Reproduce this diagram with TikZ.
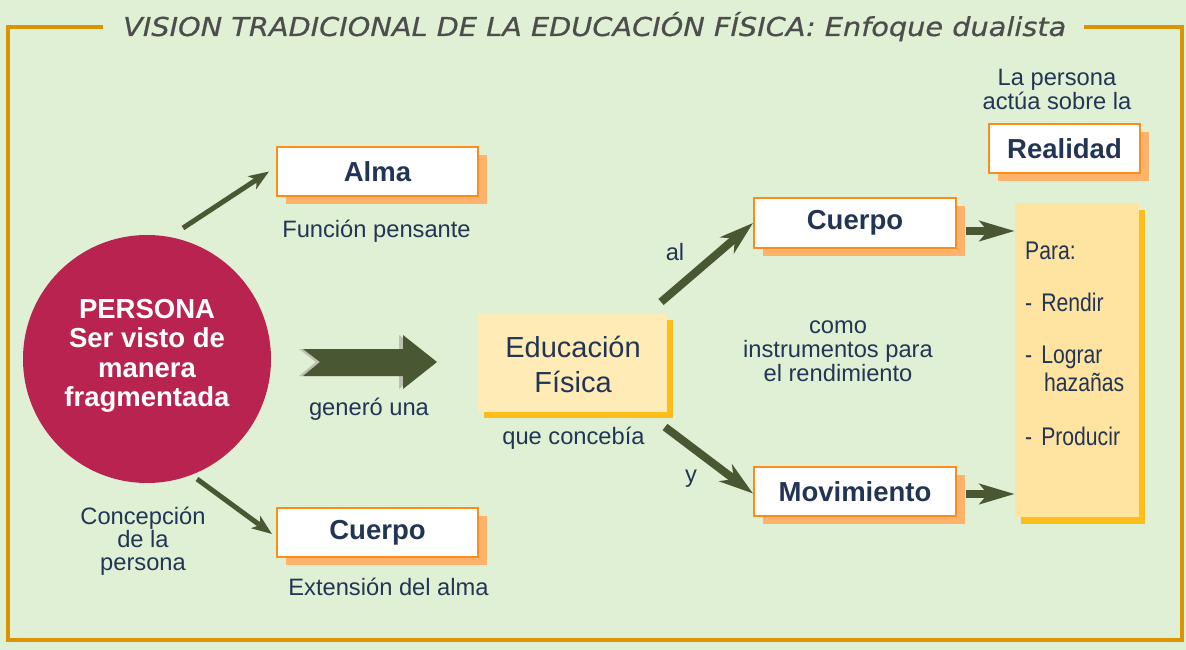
\documentclass[tikz,border=0pt]{standalone}
\usepackage{graphicx}
\usepackage{fontspec}
\setmainfont{Liberation Sans}
\newfontfamily\titlefont{DejaVu Sans}[FakeBold=0.6]
\newfontfamily\narrowfont{Liberation Sans}[FakeStretch=0.83]
\usetikzlibrary{arrows.meta,shadows,calc}
\definecolor{bgc}{HTML}{E0F0D4}
\definecolor{framec}{HTML}{D99400}
\definecolor{boxline}{HTML}{FF8C1A}
\definecolor{boxshade}{HTML}{FFB26A}
\definecolor{txt}{HTML}{233554}
\definecolor{titlec}{HTML}{4D4D4D}
\definecolor{arrowc}{HTML}{4A5733}
\definecolor{personac}{HTML}{B8244F}
\definecolor{educ}{HTML}{FFEBB5}
\definecolor{parac}{HTML}{FFE3A0}
\definecolor{ambershade}{HTML}{FDBD1A}
\definecolor{arrshadow}{HTML}{BDBFB0}
\begin{document}
\begin{tikzpicture}[x=1pt,y=-1pt,
  lbl/.style={text=txt,inner sep=0,font=\fontsize{23.7}{24}\selectfont,align=center},
  whitebox/.style={draw=boxline,line width=2pt,fill=white,inner sep=0,text=txt,
    font=\bfseries\fontsize{27.5}{30}\selectfont,
    drop shadow={shadow xshift=9pt,shadow yshift=-8pt,fill=boxshade,opacity=1}},
  edubox/.style={fill=educ,inner sep=0,
    drop shadow={shadow xshift=6pt,shadow yshift=-6pt,fill=ambershade,opacity=1}},
  parabox/.style={fill=parac,inner sep=0,
    drop shadow={shadow xshift=6pt,shadow yshift=-7pt,fill=ambershade,opacity=1}},
  thinarr/.style={draw=arrowc,line width=5pt,-{Stealth[length=20pt,width=15pt,inset=5pt]}},
  medarr/.style={draw=arrowc,line width=8pt,-{Stealth[length=34pt,width=21pt,inset=10pt]}},
  shortarr/.style={draw=arrowc,line width=8pt,-{Stealth[length=35pt,width=20pt,inset=8pt]}},
  frameline/.style={draw=framec,line width=3.5pt}
]
\useasboundingbox (0,0) rectangle (1186,650);
\fill[bgc] (0,0) rectangle (1186,650);

% title and frame
\node[anchor=base west,inner sep=0,text=titlec,font=\titlefont\itshape\fontsize{26}{26}\selectfont] (title) at (123,36)
  {\resizebox{943pt}{\height}{VISION TRADICIONAL DE LA EDUCACIÓN FÍSICA: Enfoque dualista}};
\draw[frameline] (103,27) -- (8,27) -- (8,640) -- (1182,640) -- (1182,27) -- (1084,27);

% persona circle
\node[circle,fill=personac,minimum size=248pt,inner sep=0] (persona) at (147,359) {};
\node[anchor=base,inner sep=0,text=white,align=center,font=\bfseries\fontsize{27.5}{29.3}\selectfont] (personatxt) at (147,406.5)
  {PERSONA\\Ser visto de\\manera\\fragmentada};
\node[lbl,anchor=base] (concep) at (143,570) {Concepción\\[-1.3pt]de la\\[-1.3pt]persona};

% alma / cuerpo left
\node[whitebox,minimum width=201pt,minimum height=49pt] (alma) at (377.5,171.5) {Alma};
\node[lbl,anchor=base] (almatxt) at (376.5,237.5) {Función pensante};
\node[whitebox,minimum width=201pt,minimum height=49pt] (cuerpoL) at (377.5,532.5) {Cuerpo};
\node[lbl,anchor=base] (cuerpotxt) at (388.5,595) {Extensión del alma};

\coordinate (pa) at (183,228);
\coordinate (pb) at (197,479);
\draw[thinarr] (pa) -- ([xshift=-7pt]alma.west);
\draw[thinarr] (pb) -- ([xshift=-4pt,yshift=-1.5pt]cuerpoL.west);

% big arrow
\fill[arrshadow] (299,349) -- (399,349) -- (399,335) -- (433,362) -- (399,389) -- (399,376) -- (299,376) -- (316,362) -- cycle;
\fill[arrowc] (303,349) -- (403,349) -- (403,335) -- (437,362) -- (403,389) -- (403,376) -- (303,376) -- (320,362) -- cycle;
\node[lbl,anchor=base] (genero) at (369,415.7) {generó una};

% educacion fisica
\node[edubox,minimum width=189pt,minimum height=98pt] (edu) at (572.5,363) {};
\node[anchor=base,inner sep=0,text=txt,align=center,font=\fontsize{29}{35}\selectfont] (edutxt) at (573,392) {Educación\\Física};
\node[lbl,anchor=base] (concebia) at (573.5,444) {que concebía};

% right side
\node[whitebox,minimum width=202pt,minimum height=50pt] (cuerpoR) at (855,223) {Cuerpo};
\node[whitebox,minimum width=202pt,minimum height=49pt] (mov) at (855,491.5) {Movimiento};
\coordinate (pc) at (661,302);
\coordinate (pd) at (665,427);
\draw[medarr] (pc) -- (cuerpoR.west);
\draw[medarr] (pd) -- ([yshift=-2pt]mov.west);
\node[lbl,anchor=base] (al) at (675,260) {al};
\node[lbl,anchor=base] (yy) at (691,482) {y};
\node[lbl,anchor=base] (como) at (838,381.7) {como\\instrumentos para\\el rendimiento};

% para box
\node[parabox,minimum width=124pt,minimum height=314pt] (para) at (1077,360) {};
\node[anchor=base west,inner sep=0,text=txt,align=left,font=\narrowfont\fontsize{25.5}{28.7}\selectfont] (paratxt) at (1025,445)
  {Para:\\[24pt]-\hspace{9pt}Rendir\\[22.6pt]-\hspace{9pt}Lograr\\\hspace*{19pt}hazañas\\[24.6pt]-\hspace{9pt}Producir};
\draw[shortarr] ([xshift=9pt,yshift=-8pt]cuerpoR.east) coordinate (r1) -- (r1 -| para.west);
\draw[shortarr] ([xshift=9pt,yshift=-2.5pt]mov.east) coordinate (r2) -- (r2 -| para.west);

% realidad
\node[lbl,anchor=base] (lapersona) at (1057,110) {La persona\\actúa sobre la};
\node[whitebox,minimum width=151pt,minimum height=49pt] (real) at (1064.5,148.5) {Realidad};
\end{tikzpicture}
\end{document}
